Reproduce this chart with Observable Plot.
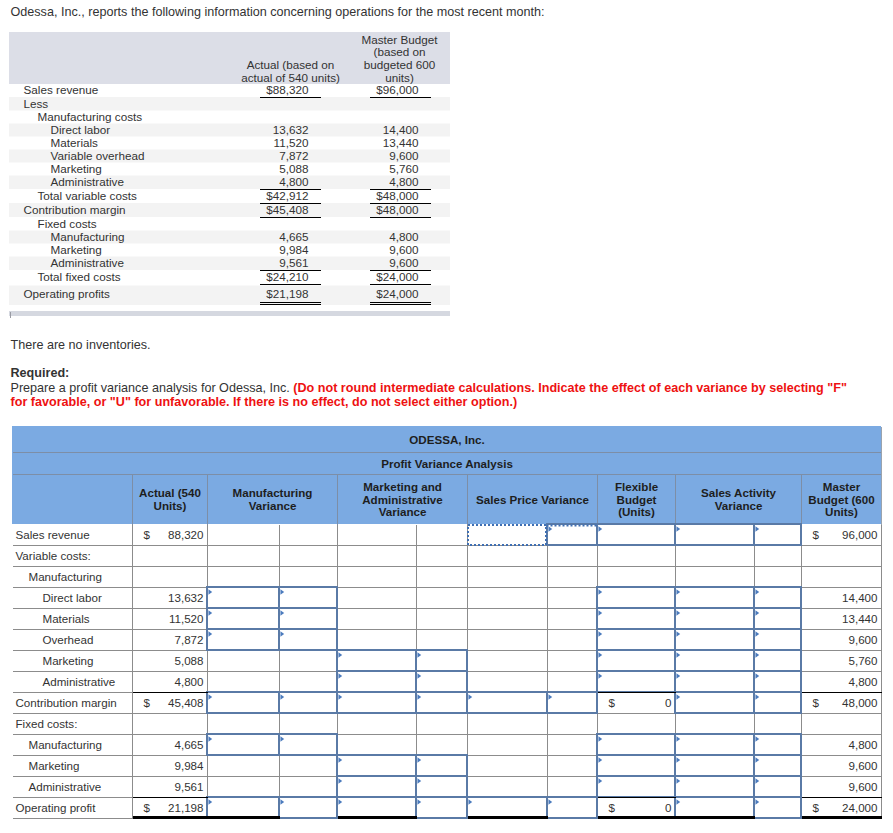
<!DOCTYPE html>
<html>
<head>
<meta charset="utf-8">
<script src="https://cdn.jsdelivr.net/npm/d3@7"></script>
<script src="https://cdn.jsdelivr.net/npm/@observablehq/plot@0.6"></script>
<style>
  html, body { margin: 0; padding: 0; background: #ffffff; }
  svg { display: block; }
</style>
</head>
<body>
<div id="chart"></div>
<script>
// ================= DATA =================
const introText = "Odessa, Inc., reports the following information concerning operations for the most recent month:";
const topHeaderActual = "Actual (based on\nactual of 540 units)";
const topHeaderMaster = "Master Budget\n(based on\nbudgeted 600\nunits)";
const topLabels = ["Sales revenue", "Less", "Manufacturing costs", "Direct labor", "Materials", "Variable overhead",
  "Marketing", "Administrative", "Total variable costs", "Contribution margin", "Fixed costs", "Manufacturing",
  "Marketing", "Administrative", "Total fixed costs", "Operating profits"];
const topIndent = [0, 0, 1, 2, 2, 2, 2, 2, 1, 0, 1, 2, 2, 2, 1, 0];
const topActual = [88320, null, null, 13632, 11520, 7872, 5088, 4800, 42912, 45408, null, 4665, 9984, 9561, 24210, 21198];
const topMaster = [96000, null, null, 14400, 13440, 9600, 5760, 4800, 48000, 48000, null, 4800, 9600, 9600, 24000, 24000];
const topDollarRows = [0, 8, 9, 14, 15];

const noteText = "There are no inventories.";
const requiredText = "Required:";
const promptText = "Prepare a profit variance analysis for Odessa, Inc.";
const instrLine1 = "(Do not round intermediate calculations. Indicate the effect of each variance by selecting \"F\"";
const instrLine2 = "for favorable, or \"U\" for unfavorable. If there is no effect, do not select either option.)";

const tableTitle = "ODESSA, Inc.";
const tableSubtitle = "Profit Variance Analysis";
const columnHeaders = ["Actual (540\nUnits)", "Manufacturing\nVariance", "Marketing and\nAdministrative\nVariance",
  "Sales Price Variance", "Flexible\nBudget\n(Units)", "Sales Activity\nVariance", "Master\nBudget (600\nUnits)"];
const rowLabels = ["Sales revenue", "Variable costs:", "Manufacturing", "Direct labor", "Materials", "Overhead",
  "Marketing", "Administrative", "Contribution margin", "Fixed costs:", "Manufacturing", "Marketing",
  "Administrative", "Operating profit"];
const rowIndent = [0, 0, 1, 2, 2, 2, 2, 2, 0, 0, 1, 1, 1, 0];
const actualValues = [88320, null, null, 13632, 11520, 7872, 5088, 4800, 45408, null, 4665, 9984, 9561, 21198];
const flexibleValues = [null, null, null, null, null, null, null, null, 0, null, null, null, null, 0];
const masterValues = [96000, null, null, 14400, 13440, 9600, 5760, 4800, 48000, null, 4800, 9600, 9600, 24000];
const dollarRows = [0, 8, 13];
// answer cells (row indices) for each variance / budget column
const answerRows = {
  mfg: [3, 4, 5, 8, 10, 13],
  mkt: [6, 7, 8, 11, 12, 13],
  price: [0, 8, 13],
  flex: [0, 3, 4, 5, 6, 7, 10, 11, 12],
  activity: [0, 3, 4, 5, 6, 7, 8, 10, 11, 12, 13]
};
const focusedCell = { col: "price", row: 0 };

// ================= LAYOUT =================
const W = 893, H = 833;
const FONT = "'Liberation Sans', Arial, Helvetica, sans-serif";
const INK = "#333333";
const RED = "#ee1111";
const fmt = d3.format(",");

// top (given data) table
const T = { left: 9, right: 450, headTop: 32, headBottom: 84, firstRow: 90,
  labelX: [23, 37, 50], actualRight: 308, masterRight: 418, actualRule: [259, 320], masterRule: [369, 430],
  actualCenter: 290, masterCenter: 399, headLastLine: 77.3, lineH: 12.8, barTop: 311, barBottom: 316 };
const topUnder = new Set([0, 7, 8, 9, 13, 14]);
const topDoubleRow = topLabels.length - 1;
const topY = [];
{
  let c = T.firstRow;
  topLabels.forEach((_, i) => {
    topY.push(c);
    c += (topUnder.has(i) ? 14 : 13) + (i + 1 === topLabels.length - 1 ? 3 : 0);
  });
}

// bottom (answer) table
const B = { left: 12, right: 881, top: 426, titleBottom: 452, subBottom: 474, headBottom: 524, rowH: 21,
  labelX: [15, 28, 42] };
const edges = [12, 132, 207, 337, 467, 597, 675, 801, 881];
const subEdge = { 2: 279, 3: 416, 4: 547, 6: 754 };
const colIndex = { mfg: 2, mkt: 3, price: 4, flex: 5, activity: 6 };
const rowTop = i => B.headBottom + i * B.rowH;
const rowMid = i => rowTop(i) + B.rowH / 2;

// ---------- helpers to build mark data ----------
const rects = [];   // {x1,x2,y1,y2,fill}
const lines = [];   // {x1,y1,x2,y2,stroke,w}
const overLines = []; // total rules drawn above the answer boxes
const texts = [];   // {x,y,text,anchor,size,weight,fill,lh}

// ---------- intro / notes ----------
const NOTE = 12.6;
texts.push({ x: 10, y: 11.5, text: introText, anchor: "start", size: NOTE, weight: "normal", fill: INK });
texts.push({ x: 10, y: 344, text: noteText, anchor: "start", size: NOTE, weight: "normal", fill: INK });
texts.push({ x: 10, y: 372, text: requiredText, anchor: "start", size: NOTE, weight: "bold", fill: INK });
const prompt = { x: 10, y: 387, text: promptText, anchor: "start", size: NOTE, weight: "normal", fill: INK };
texts.push(prompt);
const instr1 = { x: 0, y: 387, text: instrLine1, anchor: "start", size: NOTE, weight: "bold", fill: RED };
texts.push(instr1);
texts.push({ x: 10, y: 401, text: instrLine2, anchor: "start", size: NOTE, weight: "bold", fill: RED });

// measure prompt width so the red instruction follows it on the same line
{
  const ctx = document.createElement("canvas").getContext("2d");
  ctx.font = `normal ${NOTE}px ${FONT}`;
  instr1.x = prompt.x + ctx.measureText(promptText + " ").width;
}

// ---------- top table ----------
rects.push({ x1: T.left, x2: T.right, y1: T.headTop, y2: T.headBottom, fill: "#dcdee7" });
topLabels.forEach((lab, i) => {
  if (i % 2 === 1) {
    const y1 = (topY[i - 1] + topY[i]) / 2;
    const y2 = i < topLabels.length - 1 ? (topY[i] + topY[i + 1]) / 2 : topY[i] + 11;
    rects.push({ x1: T.left, x2: T.right, y1, y2, fill: "#f3f3f3" });
  }
});
rects.push({ x1: T.left, x2: T.right, y1: T.barTop, y2: T.barBottom, fill: "#d5d8e0" });
lines.push({ x1: T.left + 0.5, x2: T.left + 0.5, y1: T.barTop, y2: T.barBottom + 1, stroke: "#9a9ca4", w: 1 });

const nLines = s => s.split("\n").length;
texts.push({ x: T.actualCenter, y: T.headLastLine - (nLines(topHeaderActual) - 1) * T.lineH / 2, text: topHeaderActual,
  anchor: "middle", size: 11.7, weight: "normal", fill: INK, lh: T.lineH / 11.7 });
texts.push({ x: T.masterCenter, y: T.headLastLine - (nLines(topHeaderMaster) - 1) * T.lineH / 2, text: topHeaderMaster,
  anchor: "middle", size: 11.7, weight: "normal", fill: INK, lh: T.lineH / 11.7 });

topLabels.forEach((lab, i) => {
  const y = topY[i];
  texts.push({ x: T.labelX[topIndent[i]], y, text: lab, anchor: "start", size: 11.7, weight: "normal", fill: INK });
  const dollar = topDollarRows.includes(i) ? "$" : "";
  if (topActual[i] != null)
    texts.push({ x: T.actualRight, y, text: dollar + fmt(topActual[i]), anchor: "end", size: 11.7, weight: "normal", fill: INK });
  if (topMaster[i] != null)
    texts.push({ x: T.masterRight, y, text: dollar + fmt(topMaster[i]), anchor: "end", size: 11.7, weight: "normal", fill: INK });
  const ruleYs = topUnder.has(i) ? [y + 7] : i === topDoubleRow ? [y + 7.5, y + 9.5] : [];
  ruleYs.forEach(ry => {
    lines.push({ x1: T.actualRule[0], x2: T.actualRule[1], y1: ry, y2: ry, stroke: "#000", w: 1 });
    lines.push({ x1: T.masterRule[0], x2: T.masterRule[1], y1: ry, y2: ry, stroke: "#000", w: 1 });
  });
});

// ---------- bottom table: header ----------
const nRows = rowLabels.length;
const bodyBottom = rowTop(nRows);
rects.push({ x1: B.left, x2: B.right, y1: B.top, y2: B.headBottom, fill: "#7baae2" });
const headLine = "#7d8ea6";
lines.push({ x1: B.left, x2: B.right, y1: B.titleBottom, y2: B.titleBottom, stroke: headLine, w: 1 });
lines.push({ x1: B.left, x2: B.right, y1: B.subBottom, y2: B.subBottom, stroke: headLine, w: 1 });
edges.slice(1, -1).forEach(x => lines.push({ x1: x, x2: x, y1: B.subBottom, y2: B.headBottom, stroke: headLine, w: 1 }));
lines.push({ x1: B.right, x2: B.right, y1: B.top, y2: bodyBottom, stroke: "#9aa3ae", w: 1 });

const tableCenter = (B.left + B.right) / 2;
texts.push({ x: tableCenter, y: (B.top + B.titleBottom) / 2 + 0.5, text: tableTitle, anchor: "middle", size: 11.6, weight: "bold", fill: "#1e1e1e" });
texts.push({ x: tableCenter, y: (B.titleBottom + B.subBottom) / 2 + 0.5, text: tableSubtitle, anchor: "middle", size: 11.6, weight: "bold", fill: "#1e1e1e" });
columnHeaders.forEach((h, k) => {
  const c = k + 1;
  texts.push({ x: (edges[c] + edges[c + 1]) / 2, y: (B.subBottom + B.headBottom) / 2, text: h, anchor: "middle",
    size: 11.6, weight: "bold", fill: "#1e1e1e", lh: 12.8 / 11.6 });
});

// ---------- bottom table: grid ----------
const grid = "#8c8c8c";
for (let i = 1; i <= nRows; i++)
  lines.push({ x1: B.left, x2: B.right, y1: rowTop(i), y2: rowTop(i), stroke: grid, w: 1 });
[...edges.slice(1), ...Object.values(subEdge)].forEach(x =>
  lines.push({ x1: x, x2: x, y1: B.headBottom, y2: bodyBottom, stroke: grid, w: 1 }));

// totals: thin black rule above, thick black rule under the final line
[1, 5, 7].forEach(c => [8, 13].forEach(r =>
  overLines.push({ x1: edges[c], x2: edges[c + 1], y1: rowTop(r), y2: rowTop(r), stroke: "#000", w: 1 })));
for (let c = 1; c <= 7; c++) {
  const x2 = subEdge[c] ?? edges[c + 1];
  overLines.push({ x1: edges[c], x2, y1: bodyBottom - 1, y2: bodyBottom - 1, stroke: "#000", w: 3 });
}

// ---------- bottom table: text ----------
rowLabels.forEach((lab, i) => {
  const y = rowMid(i);
  texts.push({ x: B.labelX[rowIndent[i]], y, text: lab, anchor: "start", size: 11.6, weight: "normal", fill: INK });
  [[1, actualValues], [5, flexibleValues], [7, masterValues]].forEach(([c, vals]) => {
    if (vals[i] == null) return;
    if (dollarRows.includes(i))
      texts.push({ x: edges[c] + 11, y, text: "$", anchor: "start", size: 11.6, weight: "normal", fill: INK });
    texts.push({ x: edges[c + 1] - 4, y, text: fmt(vals[i]), anchor: "end", size: 11.6, weight: "normal", fill: INK });
  });
});

// ---------- bottom table: answer boxes ----------
const boxes = [];     // {x1,x2,y1,y2}
const tris = [];      // {x,y}
const focus = [];
Object.entries(answerRows).forEach(([key, rows]) => {
  const c = colIndex[key];
  const parts = subEdge[c] ? [[edges[c], subEdge[c]], [subEdge[c], edges[c + 1]]] : [[edges[c], edges[c + 1]]];
  rows.forEach(r => {
    parts.forEach(([x1, x2], p) => {
      const isFocus = key === focusedCell.col && r === focusedCell.row && p === 0;
      if (isFocus) { focus.push({ x1: x1 + 1, x2: x2 - 1, y1: rowTop(r) + 1, y2: rowTop(r + 1), x3: edges[c + 1] - 1 }); return; }
      boxes.push({ x1, x2, y1: rowTop(r), y2: rowTop(r + 1) });
      tris.push({ x: x1 + 2.8, y: rowTop(r) + 4.5 });
    });
  });
});

const triRight = {
  draw(ctx, size) {
    const r = Math.sqrt(size / Math.PI);
    ctx.moveTo(-r * 0.7, -r);
    ctx.lineTo(r * 0.7, 0);
    ctx.lineTo(-r * 0.7, r);
    ctx.closePath();
  }
};

const lineMarks = arr => d3.groups(arr, d => d.w).map(([w, ls]) =>
  Plot.link(ls, { x1: "x1", y1: "y1", x2: "x2", y2: "y2", stroke: d => d.stroke, strokeWidth: w,
    strokeLinecap: "butt", shapeRendering: "crispEdges" }));

// ================= PLOT =================
const chart = Plot.plot({
  width: W,
  height: H,
  margin: 0,
  x: { type: "linear", domain: [0, W], range: [0, W], axis: null },
  y: { type: "linear", domain: [0, H], range: [0, H], axis: null },
  style: { background: "#ffffff", overflow: "visible" },
  marks: [
    Plot.rect(rects, { x1: "x1", x2: "x2", y1: "y1", y2: "y2", fill: d => d.fill, stroke: null }),
    ...lineMarks(lines),
    Plot.rect(boxes, { x1: "x1", x2: "x2", y1: "y1", y2: "y2", fill: "none", stroke: "#5a7aa6", strokeWidth: 2 }),
    Plot.rect(focus, { x1: "x1", x2: "x2", y1: "y1", y2: "y2", fill: "none", stroke: "#3f6fb3", strokeWidth: 2,
      strokeDasharray: "2,2" }),
    Plot.link(focus, { x1: "x2", x2: "x3", y1: "y1", y2: "y1", stroke: "#3f6fb3", strokeWidth: 2,
      strokeDasharray: "2,2" }),
    ...lineMarks(overLines),
    Plot.dot(tris, { x: "x", y: "y", r: 2.7, symbol: triRight, fill: "#4b7bbd", stroke: null }),
    ...d3.groups(texts, d => `${d.size}|${d.weight}|${d.lh ?? 1}|${d.anchor}`).map(([k, ts]) =>
      Plot.text(ts, { x: "x", y: "y", text: "text", textAnchor: ts[0].anchor, fill: d => d.fill,
        fontSize: ts[0].size, fontWeight: ts[0].weight, fontFamily: FONT, lineHeight: ts[0].lh ?? 1,
        lineAnchor: "middle" }))
  ]
});
document.getElementById("chart").appendChild(chart);
</script>
</body>
</html>
